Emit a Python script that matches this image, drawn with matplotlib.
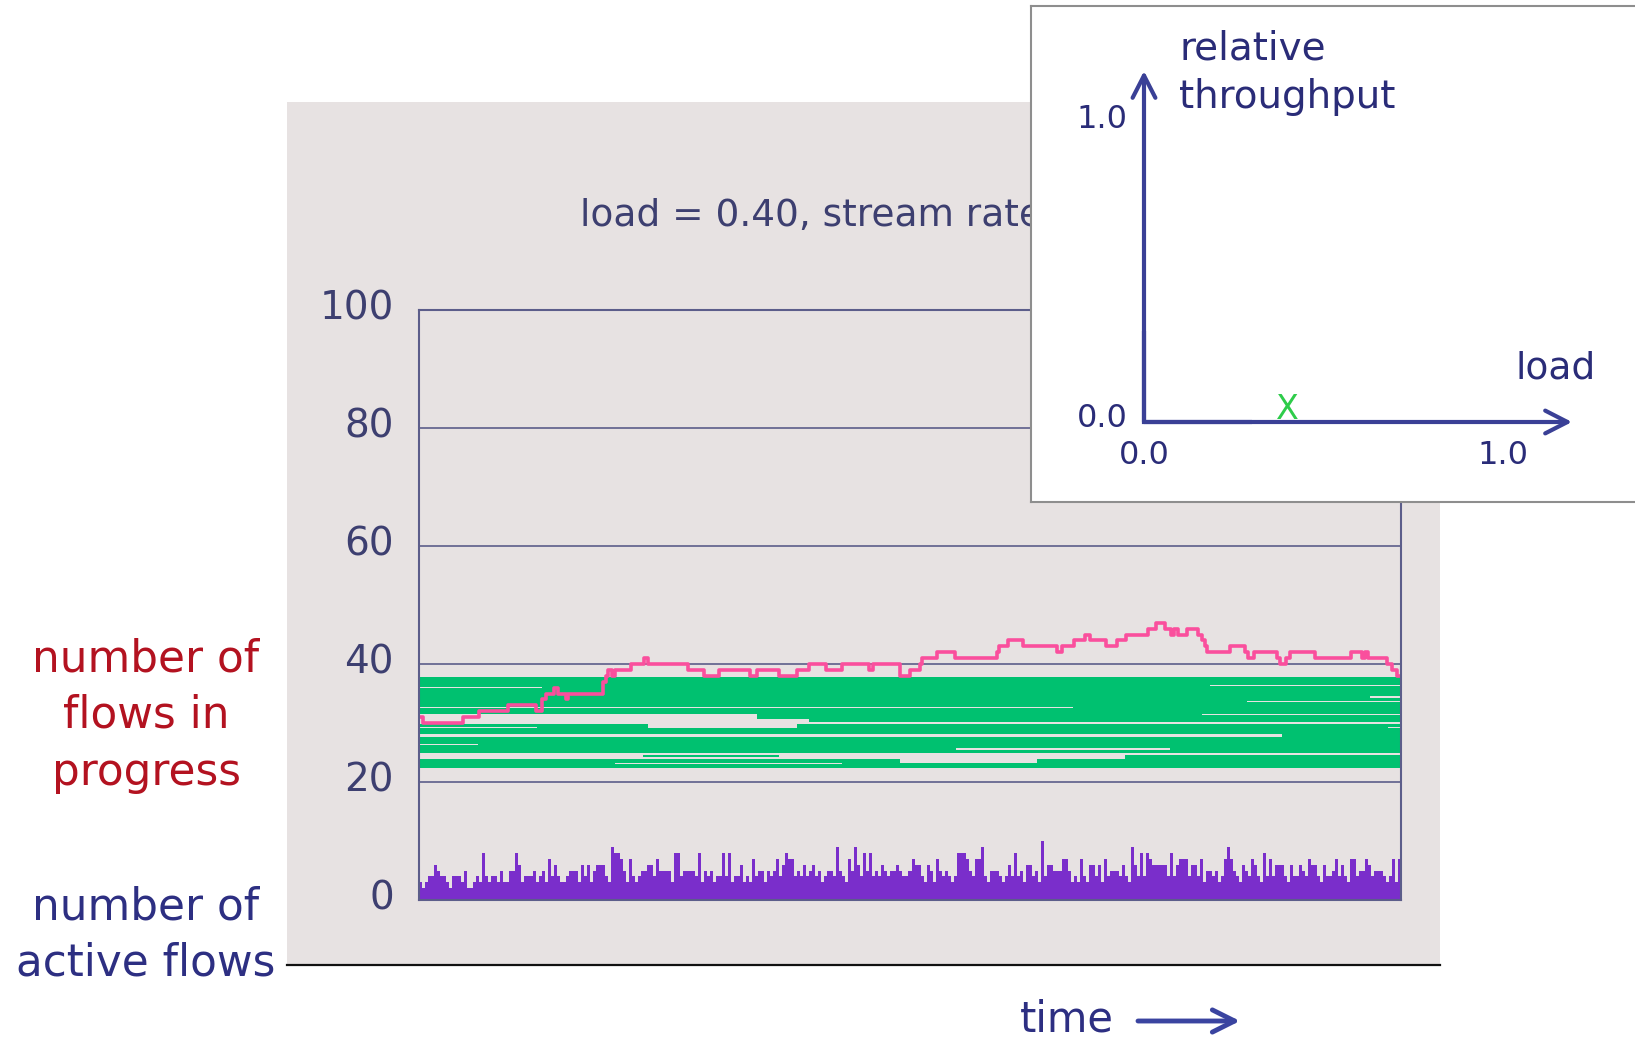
import matplotlib
matplotlib.use("Agg")
import matplotlib.pyplot as plt
from matplotlib.patches import Rectangle, FancyArrowPatch
from matplotlib.lines import Line2D
from matplotlib.transforms import ScaledTranslation

W, H, DPI = 1635, 1044, 100
plt.rcParams['font.family'] = ['DejaVu Sans']

# ---------------------------------------------------------------- data
y_ticks = [0, 20, 40, 60, 80, 100]
load_value = 0.40
title_text = f"load = {load_value:.2f}, stream rate"

# number of flows in progress (step changes; time in % of the run)
pink_t = [0.0, 0.4, 4.5, 6.1, 9.1, 11.9, 12.5, 12.9, 13.7, 14.2, 15.0, 15.2,
          18.7, 19.0, 19.2, 19.7, 20.0, 21.6, 22.9, 23.3, 27.4, 29.0, 30.5,
          33.7, 34.4, 36.7, 38.5, 39.7, 41.4, 43.1, 45.8, 46.2, 49.0, 50.0,
          51.0, 51.2, 52.7, 54.6, 58.9, 59.1, 60.0, 61.5, 65.0, 65.5, 66.7,
          67.8, 68.3, 70.0, 71.1, 72.0, 74.2, 75.1, 76.0, 76.6, 76.9, 77.3,
          78.2, 79.3, 79.7, 80.0, 80.2, 82.6, 84.1, 84.4, 85.0, 87.4, 87.7,
          88.3, 88.7, 91.2, 94.9, 96.0, 96.3, 96.6, 98.6, 99.1, 99.6]
pink_v = [31, 30, 31, 32, 33, 32, 34, 35, 36, 35, 34, 35,
          37, 38, 39, 38, 39, 40, 41, 40, 39, 38, 39,
          38, 39, 38, 39, 40, 39, 40, 39, 40, 38, 39,
          40, 41, 42, 41, 42, 43, 44, 43, 42, 43, 44,
          45, 44, 43, 44, 45, 46, 47, 46, 45, 46, 45,
          46, 45, 44, 43, 42, 43, 42, 41, 42, 41, 40,
          41, 42, 41, 42, 41, 42, 41, 40, 39, 38]

# individual flows: (level low, level high, start, end)
flow_lo = [36.5, 36.3, 36.1, 35.9, 34.5, 34.3, 33.8, 33.6, 32.7, 32.5, 31.6,
           31.4, 30.6, 30.4, 30.1, 29.3, 29.3, 29.1, 29.1, 28.2, 27.7, 26.5,
           26.3, 25.7, 25.5, 25.5, 24.9, 24.2, 23.95, 23.3, 23.3, 23.1, 23.1,
           22.45]
flow_hi = [37.75, 36.5, 36.3, 36.1, 35.9, 34.5, 34.3, 33.8, 33.6, 32.7, 32.5,
           31.6, 31.4, 30.6, 30.4, 29.9, 29.9, 29.3, 29.3, 29.1, 28.2, 27.7,
           26.5, 26.3, 25.7, 25.7, 25.5, 24.55, 24.55, 23.85, 23.85, 23.3, 23.3,
           23.1]
flow_start = [0, 0, 0, 12.5, 0, 0, 0, 0, 0, 66.6, 0,
              34.4, 34.4, 39.7, 39.7, 0, 38.5, 12.0, 38.5, 0, 87.9, 0,
              6.0, 0, 0, 76.5, 0, 22.8, 71.9, 0, 62.9, 0, 43.1,
              0]
flow_end = [100, 80.5, 100, 100, 100, 96.8, 100, 84.3, 100, 100, 100,
            79.7, 100, 100, 100, 23.3, 100, 23.3, 98.7, 100, 100, 100,
            100, 100, 54.7, 100, 100, 36.7, 100, 49.0, 100, 20.0, 100,
            100]

# number of active flows, one value per sampling interval
active = [
    3, 2, 3, 4, 4, 6, 5, 4, 4, 3, 2, 4, 4, 4, 3, 5, 2, 2, 3, 4,
    3, 8, 4, 3, 4, 4, 3, 5, 3, 3, 5, 5, 8, 6, 3, 4, 4, 4, 5, 3,
    4, 5, 3, 7, 4, 6, 4, 3, 3, 4, 5, 5, 5, 3, 6, 4, 6, 3, 5, 6,
    6, 6, 4, 3, 9, 8, 8, 7, 5, 3, 7, 4, 3, 4, 5, 5, 6, 6, 4, 7,
    5, 5, 5, 5, 3, 8, 8, 4, 5, 5, 5, 5, 4, 8, 3, 5, 4, 5, 3, 4,
    4, 8, 4, 8, 3, 4, 4, 6, 3, 4, 3, 7, 4, 5, 5, 3, 5, 4, 5, 7,
    4, 6, 8, 7, 7, 4, 5, 4, 6, 4, 5, 6, 4, 5, 3, 4, 5, 5, 4, 9,
    5, 4, 3, 7, 5, 9, 6, 4, 8, 5, 8, 4, 5, 4, 6, 5, 4, 5, 5, 6,
    5, 4, 4, 5, 7, 6, 6, 4, 3, 6, 5, 3, 7, 5, 4, 5, 4, 3, 4, 8,
    8, 8, 7, 5, 4, 7, 7, 9, 4, 3, 5, 5, 5, 4, 3, 4, 6, 4, 8, 4,
    5, 3, 6, 6, 4, 5, 3, 10, 4, 6, 6, 5, 5, 5, 7, 7, 5, 3, 4, 3,
    7, 4, 3, 6, 6, 4, 6, 3, 7, 4, 5, 5, 5, 4, 6, 4, 3, 9, 6, 4,
    8, 4, 8, 7, 6, 6, 6, 6, 6, 4, 8, 4, 6, 7, 7, 7, 4, 6, 6, 4,
    7, 3, 5, 5, 4, 5, 3, 4, 7, 9, 7, 5, 4, 3, 6, 5, 4, 7, 6, 4,
    3, 8, 4, 7, 4, 6, 6, 6, 4, 3, 6, 4, 4, 6, 5, 4, 7, 6, 6, 4,
    3, 6, 4, 4, 5, 7, 4, 6, 4, 3, 7, 7, 4, 5, 5, 7, 6, 4, 5, 5,
    5, 4, 3, 4, 7, 3, 7,
]

# ---------------------------------------------------------------- styles
BG = '#e7e2e2'
FRAME = '#5c5d8a'
TICK_COL = '#3d3f70'
RED = '#b31220'
NAVY = '#2d2f82'
GREEN = '#00c170'
PINK = '#fa4f9d'
PURPLE = '#7a2ecb'
INSET_TXT = '#2a2c78'
INSET_AX = '#3a4096'


def fx(px):
    return px / W


def fy(py):
    return 1 - py / H


fig = plt.figure(figsize=(W / DPI, H / DPI), dpi=DPI)
fig.patch.set_facecolor('white')

# grey slide panel and its bottom rule
fig.add_artist(Rectangle((fx(287), fy(965)), fx(1440) - fx(287), fy(101.7) - fy(965),
                         transform=fig.transFigure, facecolor=BG, edgecolor='none',
                         zorder=0))
fig.add_artist(Line2D([fx(287), fx(1440)], [fy(965), fy(965)],
                      transform=fig.transFigure, color='#111111', lw=1.6, zorder=1))

# ---------------------------------------------------------------- main chart
ax = fig.add_axes([fx(419), fy(900), fx(1401) - fx(419), fy(310) - fy(900)])
ax.set_facecolor('none')
ax.set_xlim(0, 100)
ax.set_ylim(0, 100)

ax.set_yticks(y_ticks)
ax.set_xticks([])
ax.grid(axis='y', color=FRAME, lw=1.2)
ax.set_axisbelow(True)
ax.tick_params(axis='y', length=0, pad=18, labelsize=28, labelcolor=TICK_COL)
for lab in ax.get_yticklabels():
    lab.set_transform(lab.get_transform() + ScaledTranslation(0, 0.06, fig.dpi_scale_trans))
for sp in ax.spines.values():
    sp.set_color(FRAME)
    sp.set_linewidth(1.5)
    sp.set_zorder(5)

# flows in progress
ax.barh(flow_lo, [e - s for s, e in zip(flow_start, flow_end)], left=flow_start,
        height=[h - l for l, h in zip(flow_lo, flow_hi)], align='edge',
        color=GREEN, linewidth=0, zorder=2)

# number of flows in progress
ax.step(pink_t + [100], pink_v + [pink_v[-1]], where='post', color=PINK, lw=2.6,
        zorder=3)

# number of active flows
n = len(active)
bw = 100 / n
ax.bar([(i + 0.5) * bw for i in range(n)], active, width=bw, color=PURPLE,
       linewidth=0, zorder=2)

fig.text(fx(580), fy(226), title_text, fontsize=27, color=TICK_COL,
         ha='left', va='baseline')

for line, yb in zip(['number of', 'flows in', 'progress'], [672, 728, 785]):
    fig.text(fx(146), fy(yb), line, ha='center', va='baseline', fontsize=31.5,
             color=RED)
for line, yb in zip(['number of', 'active flows'], [920, 975]):
    fig.text(fx(146), fy(yb), line, ha='center', va='baseline', fontsize=31.5,
             color=NAVY)

fig.text(fx(1020), fy(1032), 'time', fontsize=30, color=NAVY, ha='left',
         va='baseline')
fig.add_artist(FancyArrowPatch((fx(1138), fy(1021)), (fx(1240), fy(1021)),
                               transform=fig.transFigure,
                               arrowstyle='->,head_length=0.8,head_width=0.4',
                               mutation_scale=20, lw=3.5, color='#3a44a0',
                               shrinkA=0, shrinkB=0))

# ---------------------------------------------------------------- inset
ix0, iy_top, iy_bot = 1031, 6, 502
iw = 0.38
iax = fig.add_axes([fx(ix0), fy(iy_bot), iw, fy(iy_top) - fy(iy_bot)], zorder=10)
iax.set_facecolor('white')
for sp in iax.spines.values():
    sp.set_color('#8e8e8e')
    sp.set_linewidth(1.5)
iax.set_xticks([])
iax.set_yticks([])
ox, oy, sx, sy = 1144, 422, 359, 303
iax.set_xlim((ix0 - ox) / sx, (ix0 + iw * W - ox) / sx)
iax.set_ylim((oy - iy_bot) / sy, (oy - iy_top) / sy)

y_tip = (oy - 71) / sy
x_tip = (1572 - ox) / sx
iax.plot([0, 0, 0.3], [0.3, 0, 0], color=INSET_AX, lw=3, solid_joinstyle='miter',
         solid_capstyle='butt')
for end in [(0, y_tip), (x_tip, 0)]:
    iax.add_patch(FancyArrowPatch((0, 0), end,
                                  arrowstyle='->,head_length=0.8,head_width=0.41',
                                  mutation_scale=20, lw=3, color=INSET_AX,
                                  shrinkA=0, shrinkB=0))

iax.text(-0.045, 1.0, '1.0', ha='right', va='center', fontsize=23, color=INSET_TXT)
iax.text(-0.045, 0.013, '0.0', ha='right', va='center', fontsize=23, color=INSET_TXT)
iax.text(0.0, -0.109, '0.0', ha='center', va='center', fontsize=23, color=INSET_TXT)
iax.text(1.0, -0.109, '1.0', ha='center', va='center', fontsize=23, color=INSET_TXT)
iax.text(1.036, 0.145, 'load', ha='left', va='baseline', fontsize=27, color=INSET_TXT)
iax.text(0.0975, 1.198, 'relative', ha='left', va='baseline', fontsize=28,
         color=INSET_TXT)
iax.text(0.0975, 1.036, 'throughput', ha='left', va='baseline', fontsize=28,
         color=INSET_TXT)
iax.text(load_value, 0.04, 'X', ha='center', va='center', fontsize=24,
         color='#2ecc4a')

fig.savefig('out.png', dpi=DPI, facecolor='white')
